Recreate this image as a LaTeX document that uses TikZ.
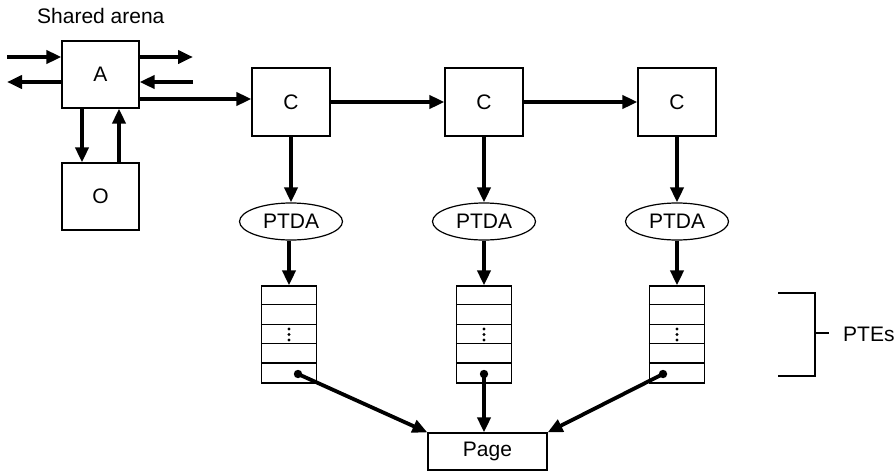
\documentclass[tikz,border=0pt]{standalone}
\usepackage{fontspec}
\setmainfont{Liberation Sans}
\usetikzlibrary{arrows.meta,shapes.geometric}
\begin{document}
\begin{tikzpicture}[x=1pt,y=-1pt,
  txt/.style={font=\fontsize{21}{25}\selectfont},
  box/.style={draw,line width=1.2pt,rectangle,inner sep=0pt,minimum width=78pt,minimum height=68pt,txt},
  oval/.style={draw,line width=1.2pt,ellipse,inner sep=0pt,minimum width=103pt,minimum height=37pt,txt},
  stack/.style={draw,line width=1.2pt,rectangle,inner sep=0pt,minimum width=55pt,minimum height=97pt},
  arr/.style={line width=4.2pt,-{Triangle[length=15pt,width=13pt]}},
  thin/.style={line width=1.2pt}]
\useasboundingbox (0,0) rectangle (896,474);

\node[txt,anchor=base west,inner sep=0pt] (title) at (37,23) {Shared arena};

\node[box,minimum width=77pt,minimum height=67pt] (A) at (100.5,74.5) {A};
\node[box,minimum width=77pt,minimum height=67pt] (O) at (100.5,196.5) {O};
\node[box] (C1) at (291,102) {C};
\node[box] (C2) at (484,102) {C};
\node[box] (C3) at (677,102) {C};
\node[oval] (P1) at (291,221.5) {PTDA};
\node[oval] (P2) at (484,221.5) {PTDA};
\node[oval] (P3) at (677,221.5) {PTDA};
\node[stack] (S1) at (289,334.5) {};
\node[stack] (S2) at (484,334.5) {};
\node[stack] (S3) at (677,334.5) {};
\node[draw,line width=1.2pt,rectangle,inner sep=0pt,minimum width=119pt,minimum height=37pt,txt] (Page) at (487.5,451.5) {Page};

% stack rows and ellipsis dots
\foreach \s in {S1,S2,S3}{
  \foreach \k in {1,2,3,4}{
    \draw[thin] ([yshift=-\k*19.4pt]\s.north west) -- ([yshift=-\k*19.4pt]\s.north east);
  }
  \foreach \dy in {-5.5,0,5.5}{
    \fill ([yshift=-\dy pt]\s.center) circle (1.6pt);
  }
}

% arrows around A
\coordinate (inL) at (7,57);
\coordinate (outL) at (7,82);
\coordinate (outR) at (193,57);
\coordinate (inR) at (193,82);
\draw[arr] (inL) -- (A.west |- inL);
\draw[arr] (A.west |- outL) -- (outL);
\draw[arr] (A.east |- outR) -- (outR);
\draw[arr] (inR) -- (A.east |- inR);
\draw[arr] ([xshift=-18.5pt]A.south) -- ([xshift=-18.5pt]O.north);
\draw[arr] ([xshift=18.5pt]O.north) -- ([xshift=18.5pt]A.south);
\coordinate (ac) at ([yshift=-24.5pt]A.east);
\draw[arr] (ac) -- (ac -| C1.west);

% chain
\draw[arr] (C1.east) -- (C2.west);
\draw[arr] (C2.east) -- (C3.west);
\draw[arr] (C1.south) -- (P1.north);
\draw[arr] (C2.south) -- (P2.north);
\draw[arr] (C3.south) -- (P3.north);
\draw[arr] (P1.south -| S1.north) -- (S1.north);
\draw[arr] (P2.south) -- (S2.north);
\draw[arr] (P3.south) -- (S3.north);

% pointers to page
\coordinate (d1) at (298,374);
\coordinate (d2) at (484,374);
\coordinate (d3) at (663,374);
\foreach \d in {d1,d2,d3}{\fill (\d) circle (4.2pt);}
\draw[arr,line width=3.8pt] (d1) -- (Page.north west);
\draw[arr,line width=3.8pt] (d2) -- (d2 |- Page.north);
\draw[arr,line width=3.8pt] (d3) -- (Page.north east);

% bracket
\coordinate (bt) at (778,293);
\coordinate (bb) at (778,376);
\draw[thin] (bt) -- (815,293) -- (815,376) -- (bb);
\coordinate (bm) at (815,333);
\node[txt,anchor=base west,inner sep=0pt] (ptes) at (843,341) {PTEs};
\draw[thin] (bm) -- (829,333);
\end{tikzpicture}
\end{document}
